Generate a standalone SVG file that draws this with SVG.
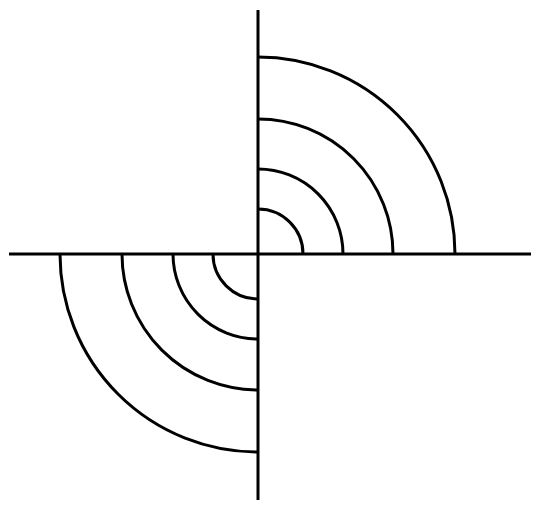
<svg xmlns="http://www.w3.org/2000/svg" width="540" height="511" viewBox="0 0 540 511">
<style>
.l{fill:none;stroke:#000;stroke-width:3;stroke-linecap:butt}
</style>
<rect width="540" height="511" fill="#fff"/>
<g id="axes" class="l">
<line x1="258" y1="10" x2="258" y2="500"/>
<line x1="9" y1="254" x2="531" y2="254"/>
</g>
<g id="upper-right" class="l">
<path d="M258 209 A45 45 0 0 1 303 254"/>
<path d="M258 169 A85 85 0 0 1 343 254"/>
<path d="M258 119 A135 135 0 0 1 393 254"/>
<path d="M258 57 A197 197 0 0 1 455 254"/>
</g>
<g id="lower-left" class="l">
<path d="M213 254 A45 45 0 0 0 258 299"/>
<path d="M173 254 A85 85 0 0 0 258 339"/>
<path d="M122 254 A136 136 0 0 0 258 390"/>
<path d="M60 254 A198 198 0 0 0 258 452"/>
</g>
</svg>
